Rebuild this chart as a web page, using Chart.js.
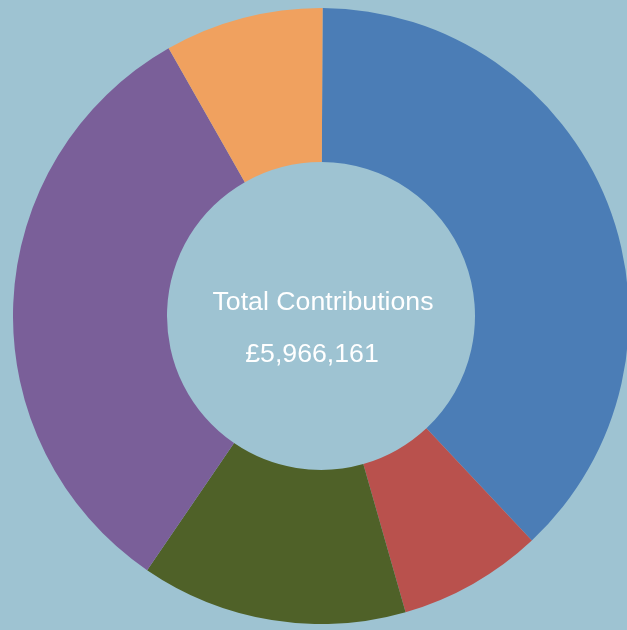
<!DOCTYPE html>
<html>
<head>
<meta charset="utf-8">
<script src="https://cdn.jsdelivr.net/npm/chart.js@4"></script>
<style>
    html, body { margin: 0; padding: 0; width: 627px; height: 630px; overflow: hidden; background: #9ec3d2; }
    #wrap { position: absolute; left: 13px; top: 8px; width: 616px; height: 616px; }
</style>
</head>
<body>
<div id="wrap"><canvas id="donut"></canvas></div>
<script>
// segment data, clockwise from 12 o'clock
const labels = ['Segment A', 'Segment B', 'Segment C', 'Segment D', 'Segment E'];
const values = [2262170, 451770, 833770, 1922080, 496371];
const colors = ['#4b7db6', '#b9514d', '#4f6128', '#7a5f99', '#f0a15f'];
const centerTitle = 'Total Contributions';

const total = values.reduce((a, b) => a + b, 0);
const totalText = '£' + total.toLocaleString('en-GB');

// centre text plugin
const centerText = {
    id: 'centerText',
    afterDraw(chart) {
        const meta = chart.getDatasetMeta(0);
        if (!meta.data.length) return;
        const cx = meta.data[0].x;
        const cy = meta.data[0].y;
        const ctx = chart.ctx;
        ctx.save();
        ctx.fillStyle = '#ffffff';
        ctx.font = '26.7px "Liberation Sans", Arial, sans-serif';
        ctx.textAlign = 'center';
        ctx.textBaseline = 'alphabetic';
        ctx.fillText(centerTitle, cx + 2, cy - 6.5);
        ctx.fillText(totalText, cx - 9, cy + 45.5);
        ctx.restore();
    }
};

new Chart(document.getElementById('donut'), {
    type: 'doughnut',
    data: {
        labels: labels,
        datasets: [{
            data: values,
            backgroundColor: colors,
            borderWidth: 0,
            hoverOffset: 0
        }]
    },
    options: {
        responsive: true,
        maintainAspectRatio: false,
        animation: false,
        cutout: '50%',
        rotation: 0.3,
        layout: { padding: 0 },
        plugins: {
            legend: { display: false },
            tooltip: { enabled: false }
        }
    },
    plugins: [centerText]
});
</script>
</body>
</html>
